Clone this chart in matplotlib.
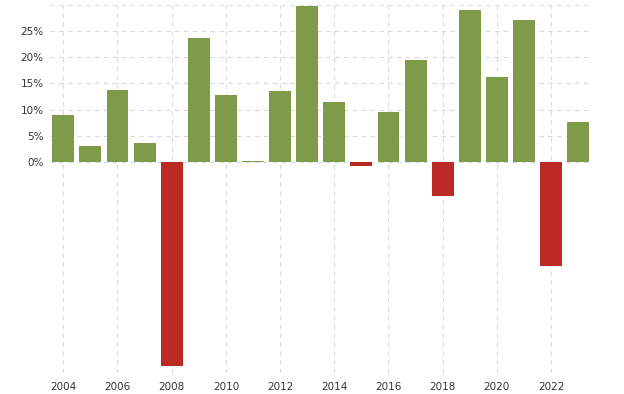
import matplotlib
matplotlib.use("Agg")
import matplotlib.pyplot as plt
from matplotlib.ticker import FixedLocator, FixedFormatter

years = list(range(2004, 2024))
returns = [9.1, 3.1, 13.7, 3.6, -38.6, 23.6, 12.9, 0.2, 13.5, 29.7,
           11.5, -0.7, 9.6, 19.5, -6.3, 29.0, 16.3, 27.0, -19.6, 7.7]
ytick_vals = [0, 5, 10, 15, 20, 25, 30]
ytick_labels = ["0%", "5%", "10%", "15%", "20%", "25%", ""]
xtick_vals = list(range(2004, 2024, 2))

green = "#7f9b4a"
red = "#bc2a26"
colors = [green if v >= 0 else red for v in returns]

fig = plt.figure(figsize=(6.24, 3.94), dpi=100)
ax = fig.add_axes([49.75 / 624, 1 - 373 / 394, (589 - 49.75) / 624, (373 - 4.5) / 394])

ax.set_xlim(2003.5, 2023.4)
ax.set_ylim(-40, 30)

# horizontal grid lines only for non-negative ticks
for y in ytick_vals:
    ax.axhline(y, color="#d9d9d9", linestyle=(0, (4, 4)), linewidth=0.8, zorder=0)
for x in xtick_vals:
    ax.axvline(x, color="#d9d9d9", linestyle=(0, (4, 4)), linewidth=0.8, zorder=0)

ax.bar(years, returns, width=0.81, color=colors, linewidth=0, zorder=2)

ax.yaxis.set_major_locator(FixedLocator(ytick_vals))
ax.yaxis.set_major_formatter(FixedFormatter(ytick_labels))
ax.set_xticks(xtick_vals)
ax.set_xticklabels([str(x) for x in xtick_vals])

ax.tick_params(axis="both", length=0, labelsize=7.5, labelcolor="#333333")
ax.tick_params(axis="y", pad=4.5)
ax.tick_params(axis="x", pad=6.5)

for s in ax.spines.values():
    s.set_visible(False)

fig.savefig("out.png", dpi=100)
